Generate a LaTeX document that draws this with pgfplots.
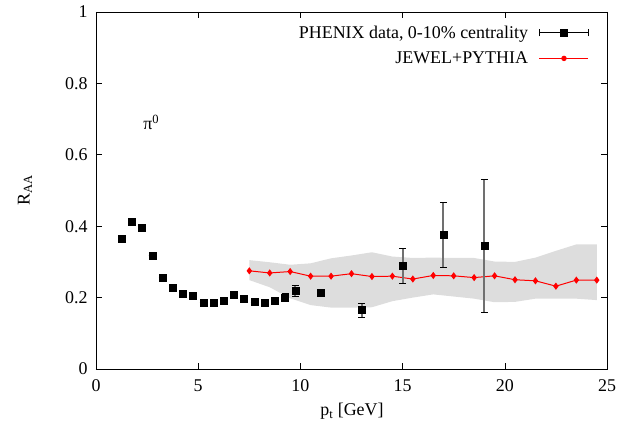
\documentclass[border=0pt]{standalone}
\usepackage{fontspec}
\setmainfont{Liberation Serif}
\usepackage{pgfplots}
\pgfplotsset{compat=1.18}
\usepackage{pgfplotstable}
\definecolor{bandgray}{HTML}{DDDDDD}
\definecolor{errgray}{HTML}{707070}

\pgfplotstableread{
x y ey
1.25 0.365 0
1.75 0.413 0
2.25 0.396 0
2.75 0.317 0
3.25 0.256 0
3.75 0.228 0
4.25 0.211 0
4.75 0.205 0
5.25 0.186 0
5.75 0.186 0
6.25 0.191 0
6.75 0.208 0
7.25 0.196 0
7.75 0.188 0
8.25 0.187 0
8.75 0.190 0.007
9.25 0.201 0.012
9.75 0.219 0.016
11 0.213 0.010
13 0.165 0.020
15 0.289 0.048
17 0.376 0.091
19 0.345 0.187
}\phenix

\pgfplotstableread{
x y
7.5 0.275
8.5 0.269
9.5 0.273
10.5 0.260
11.5 0.260
12.5 0.267
13.5 0.259
14.5 0.260
15.5 0.252
16.5 0.262
17.5 0.261
18.5 0.256
19.5 0.261
20.5 0.250
21.5 0.247
22.5 0.232
23.5 0.249
24.5 0.249
}\jewel

\begin{document}
\begin{tikzpicture}
\begin{axis}[
  scale only axis,
  width=511bp, height=357bp,
  xmin=0, xmax=25, ymin=0, ymax=1,
  xtick={0,5,10,15,20,25},
  ytick={0,0.2,0.4,0.6,0.8,1},
  minor tick num=0,
  tick align=inside,
  major tick length=6bp,
  tick style={black, line width=0.6pt},
  axis line style={black, line width=0.8pt},
  /pgf/number format/assume math mode=true,
  /pgf/number format/fixed,
  font=\fontsize{18}{21}\selectfont,
  tick label style={font=\fontsize{18}{21}\selectfont},
  yticklabel style={xshift=-5bp},
  xticklabel style={yshift=-7bp},
  xlabel={p\textsubscript{t} [GeV]},
  ylabel={R\textsubscript{AA}},
  xlabel style={at={(axis description cs:0.501,-0.118)}, anchor=center},
  ylabel style={at={(axis description cs:-0.139,0.5)}, anchor=center},
  legend plot pos=right,
  legend cell align=right,
  reverse legend,
  legend style={draw=none, fill=none, at={(axis description cs:0.971,0.973)}, anchor=north east,
    font=\fontsize{18}{21}\selectfont, row sep=8bp,
    /tikz/every odd column/.append style={column sep=9bp}},
  clip=false,
]
\coordinate (SW) at (rel axis cs:0,0);
\coordinate (NE) at (rel axis cs:1,1);
% theory band
\addplot[fill=bandgray, draw=none, forget plot] coordinates {
(7.5,0.305) (8.5,0.299) (9.5,0.292) (10.5,0.296) (11.5,0.310) (12.5,0.318)
(13.5,0.327) (14.5,0.315) (15.5,0.311) (16.5,0.312) (17.5,0.311) (18.5,0.311)
(19.5,0.301) (20.5,0.300) (21.5,0.312) (22.5,0.331) (23.5,0.349) (24.5,0.349)
(24.5,0.193) (23.5,0.197) (22.5,0.197) (21.5,0.197) (20.5,0.188) (19.5,0.187)
(18.5,0.197) (17.5,0.203) (16.5,0.209) (15.5,0.200) (14.5,0.190) (13.5,0.173)
(12.5,0.172) (11.5,0.172) (10.5,0.179) (9.5,0.198) (8.5,0.229) (7.5,0.249)
} -- cycle;
% JEWEL
\addplot[red, line width=1pt, mark=diamond*, mark size=2.8bp, mark options={fill=red},
  legend image code/.code={
  \draw[red, line width=1pt] (0bp,0bp) -- (49bp,0bp);
  \fill[red] (24.5bp,0bp) circle (2.2bp);}]
  table[x=x, y=y] {\jewel};
\addlegendentry{JEWEL+PYTHIA}
% PHENIX data
\addplot[only marks, mark=square*, mark size=3.5bp, black,
  legend image code/.code={
  \draw[black, line width=0.8pt] (0bp,0bp) -- (49bp,0bp);
  \draw[black, line width=0.8pt] (0bp,-3.5bp) -- (0bp,3.5bp) (49bp,-3.5bp) -- (49bp,3.5bp);
  \fill[black] (21bp,-3.5bp) rectangle (28bp,3.5bp);},
  error bars/.cd, y dir=both, y explicit,
  error bar style={errgray, line width=2bp},
  error mark options={black, line width=0.7pt, rotate=90, mark size=3.5bp},
  ]
  table[x=x, y=y, y error=ey] {\phenix};
\addlegendentry{PHENIX data, 0-10\% centrality}
\node[anchor=center] at (axis cs:2.7,0.69) {π\textsuperscript{0}};
\end{axis}
\pgfresetboundingbox
\path[use as bounding box] ([shift={(-96bp,-57bp)}]SW) rectangle ([shift={(27bp,12bp)}]NE);
\end{tikzpicture}
\end{document}
